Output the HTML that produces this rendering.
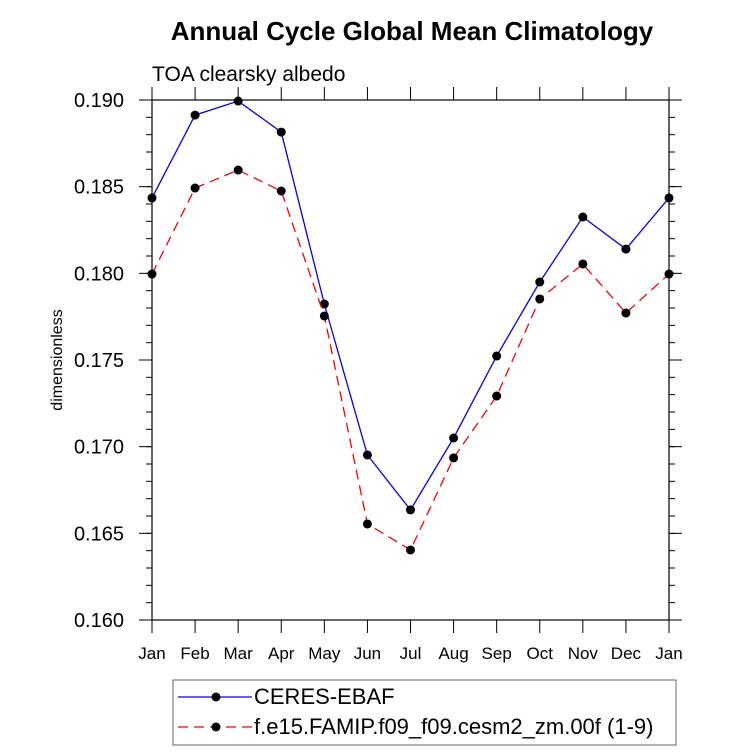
<!DOCTYPE html>
<html><head><meta charset="utf-8"><style>
body{margin:0;background:#fff;}
svg{display:block;font-family:"Liberation Sans",sans-serif;}
</style></head><body>
<svg id="chart" width="733" height="754">
<text x="412" y="40" text-anchor="middle" font-size="26" font-weight="bold">Annual Cycle Global Mean Climatology</text>
<text x="152" y="81" font-size="21">TOA clearsky albedo</text>
<text transform="translate(62,360) rotate(-90)" text-anchor="middle" font-size="16">dimensionless</text>
<g id="axes"></g><g id="series"></g>
<g>
<rect x="173" y="680" width="503" height="65" fill="#fff" stroke="#666" stroke-width="1"/>
<g>
<line x1="178" y1="697" x2="252" y2="697" stroke="#00f" stroke-width="1.3"/>
<circle cx="216" cy="697" r="4.5" fill="#000"/>
<text x="254" y="704" font-size="22">CERES-EBAF</text></g>
<g>
<line x1="178" y1="727" x2="252" y2="727" stroke="#f00" stroke-width="1.3" stroke-dasharray="10,6"/>
<circle cx="216" cy="727" r="4.5" fill="#000"/>
<text x="254" y="734" font-size="22">f.e15.FAMIP.f09_f09.cesm2_zm.00f (1-9)</text></g>
</g>
</svg>
<script>
const months=["Jan","Feb","Mar","Apr","May","Jun","Jul","Aug","Sep","Oct","Nov","Dec","Jan"];
const ceres=[0.18435,0.18913,0.18994,0.18815,0.17823,0.16952,0.16635,0.17050,0.17523,0.17950,0.18325,0.18140,0.18435];
const model=[0.17996,0.18492,0.18596,0.18475,0.17754,0.16554,0.16404,0.16935,0.17292,0.17852,0.18054,0.17771,0.17996];
const yTicks=[0.160,0.165,0.170,0.175,0.180,0.185,0.190];
const yTickLabels=["0.160","0.165","0.170","0.175","0.180","0.185","0.190"];
const X0=152,X1=669,Y0=620,Y1=100,YMIN=0.160,YMAX=0.190;
const xs=i=>X0+(X1-X0)*i/(months.length-1);
const ys=v=>Y0-(v-YMIN)/(YMAX-YMIN)*(Y0-Y1);
const NS="http://www.w3.org/2000/svg";
function mk(t,a,p){const e=document.createElementNS(NS,t);for(const k in a)e.setAttribute(k,a[k]);p.appendChild(e);return e;}
const ax=document.getElementById('axes');
const fr=mk('rect',{x:X0,y:Y1,width:X1-X0,height:Y0-Y1,fill:'none',stroke:'#000','stroke-width':1.2},ax);


months.forEach((m,i)=>{const x=xs(i);
mk('line',{x1:x,y1:Y0,x2:x,y2:Y0+13,stroke:'#000'},ax);
mk('line',{x1:x,y1:Y1,x2:x,y2:Y1-13,stroke:'#000'},ax);
const t=mk('text',{x:x,y:659,'text-anchor':'middle','font-size':17},ax);t.textContent=m;

});
for(let v=YMIN;v<=YMAX+1e-9;v+=0.001){const y=ys(v);
mk('line',{x1:X0,y1:y,x2:X0-6,y2:y,stroke:'#000'},ax);
mk('line',{x1:X1,y1:y,x2:X1+6,y2:y,stroke:'#000'},ax);}
yTicks.forEach((v,i)=>{const y=ys(v);
mk('line',{x1:X0,y1:y,x2:X0-13,y2:y,stroke:'#000'},ax);
mk('line',{x1:X1,y1:y,x2:X1+13,y2:y,stroke:'#000'},ax);
const t=mk('text',{x:124,y:y+7,'text-anchor':'end','font-size':20},ax);t.textContent=yTickLabels[i];

});
const sg=document.getElementById('series');
function series(vals,col,dash,name){
const g=mk('g',{},sg);


mk('polyline',{points:vals.map((v,i)=>xs(i)+','+ys(v)).join(' '),fill:'none',stroke:col,'stroke-width':1.3,'stroke-dasharray':dash},g);
vals.forEach((v,i)=>{const c=mk('circle',{cx:xs(i),cy:ys(v),r:4.5,fill:'#000'},g);

});}
series(ceres,'#00f','none','ceres-series');
series(model,'#f00','10,6','model-series');
</script>
</body></html>
